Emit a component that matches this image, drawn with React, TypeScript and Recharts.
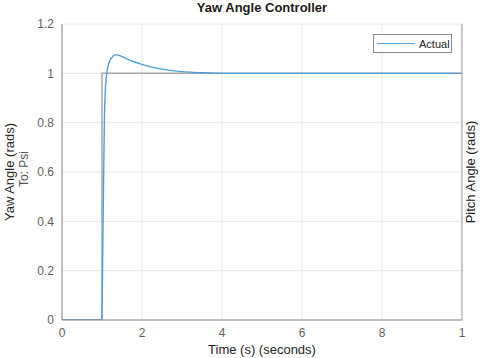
import { LineChart, Line, XAxis, YAxis, CartesianGrid } from 'recharts';

const refTime = [0, 1, 1, 10];
const refValue = [0, 0, 1, 1];

const actualTime = [0, 0.99, 1.0, 1.02, 1.04, 1.06, 1.09, 1.12, 1.17, 1.25, 1.33, 1.4, 1.5, 1.65, 1.8, 2.0, 2.25, 2.5, 2.75, 3.0, 3.3, 3.6, 4.0, 5.0, 7.0, 10.0];
const actualValue = [0, 0, 0.02, 0.3, 0.57, 0.81, 0.95, 1.0, 1.04, 1.065, 1.075, 1.074, 1.068, 1.057, 1.047, 1.036, 1.025, 1.017, 1.011, 1.007, 1.004, 1.002, 1.0, 1.0, 1.0, 1.0];

const xTicks = [0, 2, 4, 6, 8, 10];
const xTickLabels = ['0', '2', '4', '6', '8', '1'];
const yTicks = [0, 0.2, 0.4, 0.6, 0.8, 1, 1.2];

const refData = refTime.map((t, i) => ({ t, v: refValue[i] }));
const actualData = actualTime.map((t, i) => ({ t, v: actualValue[i] }));

const FONT = '"Liberation Sans", Arial, sans-serif';
const tickStyle = { fill: '#5f5f5f', fontSize: 12, fontFamily: FONT };

function LegendBox() {
  return (
    <div
      style={{
        position: 'absolute',
        left: 373,
        top: 34,
        width: 79,
        height: 19,
        border: '1px solid #8a8a8a',
        background: '#fff',
        boxSizing: 'border-box',
        display: 'flex',
        alignItems: 'center',
        fontFamily: FONT,
        fontSize: 11,
        color: '#222',
      }}
    >
      <div style={{ width: 38, height: 1.5, background: '#5aa6dc', marginLeft: 3, marginRight: 4 }} />
      <span>Actual</span>
    </div>
  );
}

export default function App() {
  return (
    <div style={{ position: 'absolute', left: 0, top: 0, width: 480, height: 358, background: '#fff' }}>
      <div
        style={{
          position: 'absolute',
          left: 62,
          width: 400,
          top: 0,
          textAlign: 'center',
          fontFamily: FONT,
          fontWeight: 'bold',
          fontSize: 13,
          color: '#1a1a1a',
          lineHeight: '16px',
        }}
      >
        Yaw Angle Controller
      </div>
      <LineChart width={480} height={358} margin={{ top: 24, right: 0, bottom: 0, left: 0 }}>
        <CartesianGrid xAxisId="b" yAxisId="l" stroke="#e6e6e6" strokeWidth={1} />
        <XAxis
          xAxisId="b"
          dataKey="t"
          type="number"
          domain={[0, 10]}
          ticks={xTicks}
          tickFormatter={(v: number) => xTickLabels[xTicks.indexOf(v)]}
          tick={tickStyle}
          tickLine={false}
          axisLine={{ stroke: '#8c8c8c' }}
          height={38}
          allowDataOverflow
          label={{ value: 'Time (s) (seconds)', position: 'insideBottom', offset: 4, fill: '#262626', fontSize: 13, fontFamily: FONT }}
        />
        <XAxis
          xAxisId="top"
          orientation="top"
          dataKey="t"
          type="number"
          domain={[0, 10]}
          ticks={xTicks}
          tick={false}
          tickLine={false}
          axisLine={{ stroke: '#a0a0a0' }}
          height={0}
        />
        <YAxis
          yAxisId="l"
          dataKey="v"
          type="number"
          domain={[0, 1.2]}
          ticks={yTicks}
          tickFormatter={(v: number) => String(Math.round(v * 10) / 10)}
          tick={tickStyle}
          tickLine={false}
          axisLine={{ stroke: '#8c8c8c' }}
          width={62}
          allowDataOverflow
          label={(props: any) => {
            const vb = props.viewBox;
            const cy = vb.y + vb.height / 2;
            return (
              <g>
                <text x={9} y={cy} transform={`rotate(-90, 9, ${cy})`} textAnchor="middle" dominantBaseline="central" fill="#262626" fontSize={13} fontFamily={FONT}>
                  Yaw Angle (rads)
                </text>
                <text x={24} y={cy - 3} transform={`rotate(-90, 24, ${cy - 3})`} textAnchor="middle" dominantBaseline="central" fill="#555" fontSize={12} fontFamily={FONT}>
                  To: Psi
                </text>
              </g>
            );
          }}
        />
        <YAxis
          yAxisId="r"
          orientation="right"
          type="number"
          domain={[0, 1.2]}
          ticks={yTicks}
          tick={false}
          tickLine={false}
          axisLine={{ stroke: '#a0a0a0' }}
          width={18}
          label={(props: any) => {
            const vb = props.viewBox;
            const cy = vb.y + vb.height / 2;
            const x = vb.x + 8;
            return (
              <text x={x} y={cy} transform={`rotate(-90, ${x}, ${cy})`} textAnchor="middle" dominantBaseline="central" fill="#1a1a1a" fontSize={13} fontFamily={FONT}>
                Pitch Angle (rads)
              </text>
            );
          }}
        />
        <Line
          xAxisId="b"
          yAxisId="l"
          data={refData}
          dataKey="v"
          type="linear"
          stroke="#a8a8a8"
          strokeWidth={1.5}
          dot={false}
          isAnimationActive={false}
        />
        <Line
          xAxisId="b"
          yAxisId="l"
          data={actualData}
          dataKey="v"
          name="Actual"
          type="monotone"
          stroke="#4d9fd8"
          strokeWidth={1.4}
          dot={false}
          isAnimationActive={false}
        />
      </LineChart>
      <LegendBox />
    </div>
  );
}
